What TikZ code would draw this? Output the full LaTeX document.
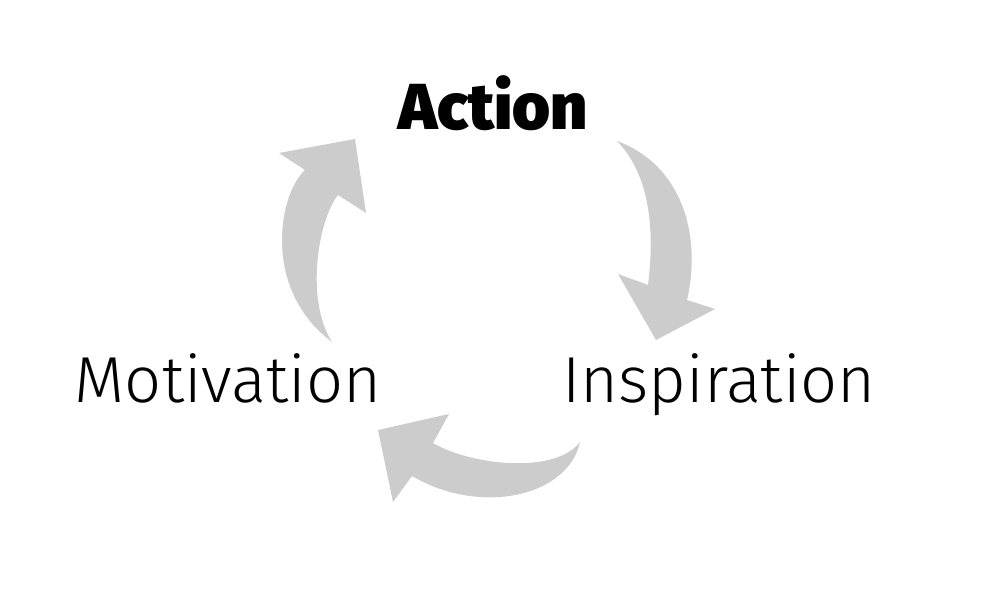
\documentclass[tikz,border=0pt]{standalone}
\usepackage{fontspec}
\usepackage{tikz}
\usetikzlibrary{positioning}
\newfontfamily\lightfont{Fira Sans Light}
\newfontfamily\heavyfont{Fira Sans Black}
\definecolor{arrowgray}{RGB}{204,204,204}

\begin{document}
\begin{tikzpicture}[x=0.02cm,y=-0.02cm,
  bigarrow/.style={fill=arrowgray,draw=none},
  steplabel/.style={anchor=base,inner sep=0pt,text=black,font=\lightfont\fontsize{37}{40}\selectfont},
  toplabel/.style={anchor=base,inner sep=0pt,text=black,font=\heavyfont\fontsize{37}{40}\selectfont}]
\useasboundingbox[fill=white] (0,0) rectangle (985,591);
\node[toplabel] (action) at (493,130) {Action};
\node[steplabel] (motivation) at (228,403) {Motivation};
\node[steplabel] (inspiration) at (719,403) {Inspiration};
\fill[bigarrow] (332,342) .. controls (262,290) and (278,195) .. (305,170) -- (279,153) -- (355,139) -- (366,213) -- (338,195) .. controls (318,220) and (305,300) .. (332,342) -- cycle;
\fill[bigarrow] (617,141) .. controls (682,165) and (702,235) .. (687,300) -- (715,309) -- (656,340) -- (618,274) -- (648,285) .. controls (655,230) and (650,175) .. (617,141) -- cycle;
\fill[bigarrow] (580,442) .. controls (568,497) and (480,516) .. (412,476) -- (393,502) -- (378,430) -- (449,414) -- (433,443) .. controls (470,465) and (555,475) .. (580,442) -- cycle;
\end{tikzpicture}
\end{document}
